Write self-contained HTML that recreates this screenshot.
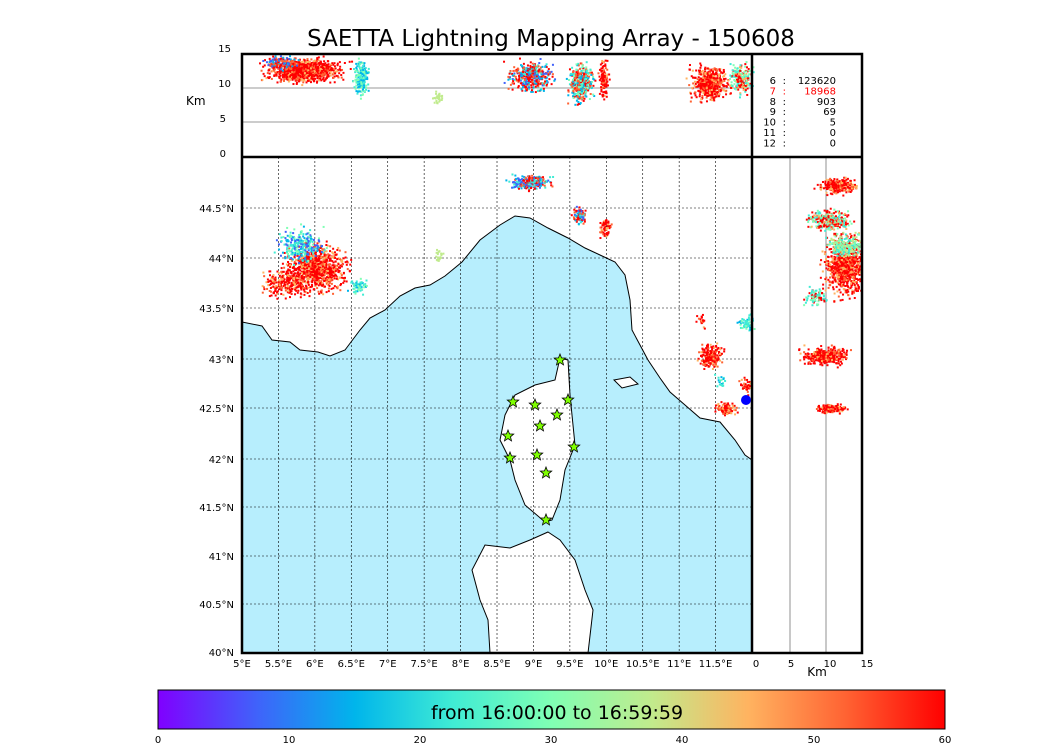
<!DOCTYPE html>
<html><head><meta charset="utf-8"><style>
body{margin:0;background:#fff;width:1050px;height:750px;overflow:hidden;font-family:"DejaVu Sans",sans-serif}
svg text{font-family:"DejaVu Sans",sans-serif}
</style></head><body>
<svg id="s" width="1050" height="750" xmlns="http://www.w3.org/2000/svg">
<defs>
<linearGradient id="rb" x1="0" x2="1" y1="0" y2="0">
<stop offset="0" stop-color="#8000ff"/><stop offset="0.125" stop-color="#4062fa"/>
<stop offset="0.25" stop-color="#00b5eb"/><stop offset="0.375" stop-color="#40ecd4"/>
<stop offset="0.5" stop-color="#80ffb4"/><stop offset="0.625" stop-color="#c0eb8d"/>
<stop offset="0.75" stop-color="#ffb360"/><stop offset="0.875" stop-color="#ff6232"/>
<stop offset="1" stop-color="#ff0000"/></linearGradient>
<clipPath id="cm"><rect x="242" y="157" width="510" height="496"/></clipPath>
<clipPath id="ca"><rect x="242" y="54" width="620" height="599"/></clipPath>
</defs>
<text x="551" y="46" font-size="23" text-anchor="middle">SAETTA Lightning Mapping Array - 150608</text>
<g clip-path="url(#cm)">
<path d="M242,322 L262,326 L272,340 L290,342 L300,350 L318,352 L330,356 L345,350 L360,330 L370,318 L385,310 L400,296 L415,288 L430,285 L445,276 L462,262 L480,240 L500,225 L515,216 L530,218 L548,228 L568,238 L585,248 L600,255 L615,262 L625,275 L630,300 L632,330 L640,345 L648,360 L660,378 L670,392 L685,405 L700,418 L720,422 L735,440 L745,455 L752,460 L752,653 L242,653 Z" fill="#b7eefd" stroke="#000" stroke-width="1"/>
<path d="M560,358 L568,360 L570,395 L575,445 L565,470 L560,500 L552,520 L545,522 L525,505 L515,480 L510,460 L500,440 L505,415 L515,395 L535,385 L555,380 Z" fill="#fff" stroke="#000" stroke-width="1"/>
<path d="M548,532 L560,540 L575,560 L585,590 L593,610 L588,653 L490,653 L488,620 L480,600 L472,570 L485,545 L510,548 L530,540 Z" fill="#fff" stroke="#000" stroke-width="1"/>
<path d="M614,380 L630,377 L638,384 L622,388 Z" fill="#fff" stroke="#000" stroke-width="1"/>
</g>
<g id="grid" stroke="#000" stroke-width="0.6" stroke-dasharray="2,2" fill="none"></g>
<g stroke="#777" stroke-width="0.8"><line x1="242" y1="88" x2="752" y2="88"/><line x1="242" y1="122" x2="752" y2="122"/>
<line x1="790" y1="157" x2="790" y2="653"/><line x1="826" y1="157" x2="826" y2="653"/></g>
<g id="dots" clip-path="url(#ca)"></g>
<g id="stars"></g>
<circle cx="746" cy="400" r="5" fill="#0000ff"/>
<g fill="none" stroke="#000" stroke-width="2.5">
<rect x="242" y="54" width="620" height="599"/>
<line x1="242" y1="157" x2="862" y2="157"/><line x1="752" y1="54" x2="752" y2="653"/></g>
<g font-size="10" text-anchor="end">
<text x="231" y="52">15</text><text x="231" y="87">10</text><text x="226" y="122">5</text><text x="226" y="157">0</text></g>
<text x="186" y="105" font-size="12">Km</text>
<g font-size="10" id="tbl" text-anchor="end"></g>
<g font-size="10" text-anchor="end" id="lat"></g>
<g font-size="10" text-anchor="middle" id="lon"></g>
<g font-size="10" text-anchor="middle"><text x="756" y="667">0</text><text x="791" y="667">5</text><text x="830" y="667">10</text><text x="867" y="667">15</text></g>
<text x="817" y="676" font-size="12" text-anchor="middle">Km</text>
<rect x="158" y="690" width="787" height="39" fill="url(#rb)" stroke="#000"/>
<text x="557" y="719" font-size="19" text-anchor="middle">from 16:00:00 to 16:59:59</text>
<g font-size="10" text-anchor="middle"><text x="158" y="743">0</text><text x="289" y="743">10</text><text x="420" y="743">20</text><text x="551" y="743">30</text><text x="682" y="743">40</text><text x="814" y="743">50</text><text x="945" y="743">60</text></g>
</svg>
<script>
var NS="http://www.w3.org/2000/svg";function el(p,t,a,tx){var e=document.createElementNS(NS,t);for(var k in a)e.setAttribute(k,a[k]);if(tx)e.textContent=tx;p.appendChild(e);return e;}
var g=document.getElementById('grid');
for(var i=1;i<14;i++){var x=242+i*36.43;el(g,'line',{x1:x,y1:157,x2:x,y2:653});}
var lats=[[44.5,208],[44,258],[43.5,308],[43,359],[42.5,408],[42,459],[41.5,507],[41,556],[40.5,604],[40,652]];
var L=document.getElementById('lat');
lats.forEach(function(a){if(a[0]>40)el(g,'line',{x1:242,y1:a[1],x2:752,y2:a[1]});el(L,'text',{x:234,y:a[1]+4},a[0]+'°N');});
var lo=document.getElementById('lon');
for(var i=0;i<14;i++){var v=5+i*0.5;el(lo,'text',{x:242+i*36.43,y:667},v+'°E');}
var T=document.getElementById('tbl');
var rows=[['6','123620'],['7','18968'],['8','903'],['9','69'],['10','5'],['11','0'],['12','0']];
rows.forEach(function(r,i){var y=84+i*10.4;var c=i==1?'#f00':'#000';el(T,'text',{x:776,y:y,fill:c},r[0]);el(T,'text',{x:786,y:y,fill:c},':');el(T,'text',{x:836,y:y,fill:c},r[1]);});
var seed=7;function R(){seed=(seed*16807)%2147483647;return seed/2147483647;}
function N(){return (R()+R()+R()-1.5)/0.75;}
var cols=['#8000ff','#4062fa','#00b5eb','#40ecd4','#80ffb4','#c0eb8d','#ffb360','#ff6232','#ff0000'];
var D=document.getElementById('dots');
function cl(cx,cy,sx,sy,n,ci){for(var i=0;i<n;i++){var c=cols[ci[Math.floor(R()*ci.length)]];el(D,'rect',{x:cx+N()*sx,y:cy+N()*sy,width:2,height:2,fill:c});}}
var RED=[8,8,8,7,8,6],MIX=[1,2,3,8,8,7],CY=[2,3,3,4];
cl(315,268,20,15,900,RED);cl(300,245,15,12,250,[1,2,3,4]);cl(285,282,15,10,250,RED);
cl(530,182,14,5,250,MIX);cl(578,215,5,6,80,MIX);cl(605,228,4,7,60,RED);cl(358,285,6,5,60,CY);cl(438,255,3,4,20,[5]);
cl(710,355,8,8,200,RED);cl(725,408,7,4,100,RED);cl(745,322,5,6,50,CY);cl(745,385,4,6,40,RED);cl(700,320,4,5,20,RED);cl(720,380,4,4,20,CY);
cl(305,70,25,8,900,RED);cl(280,62,12,5,150,[1,2,8,7]);cl(360,78,5,12,200,[2,3,4]);cl(437,97,3,4,30,[5]);
cl(530,76,15,10,400,MIX);cl(580,82,8,13,400,[3,4,8,2,7]);cl(603,80,3,12,100,RED);cl(708,83,12,11,500,RED);cl(740,78,8,10,200,[3,4,8,6]);
cl(838,185,14,5,250,RED);cl(828,220,14,7,300,[8,8,6,3,4]);cl(845,265,14,20,900,RED);cl(845,245,12,8,200,[4,5,3]);
cl(825,355,15,6,350,RED);cl(830,408,10,3,120,RED);cl(815,295,8,6,80,[3,4,8]);
var S=document.getElementById('stars');
[[560,360],[513,402],[535,405],[568,400],[557,415],[540,426],[508,436],[510,458],[537,455],[574,447],[546,473],[546,520]].forEach(function(p){
var pts=[];for(var k=0;k<10;k++){var r=k%2?2.6:6,a=-Math.PI/2+k*Math.PI/5;pts.push((p[0]+r*Math.cos(a)).toFixed(1)+','+(p[1]+r*Math.sin(a)).toFixed(1));}
el(S,'polygon',{points:pts.join(' '),fill:'#7fff00',stroke:'#000','stroke-width':0.8});});
</script>
</body></html>
